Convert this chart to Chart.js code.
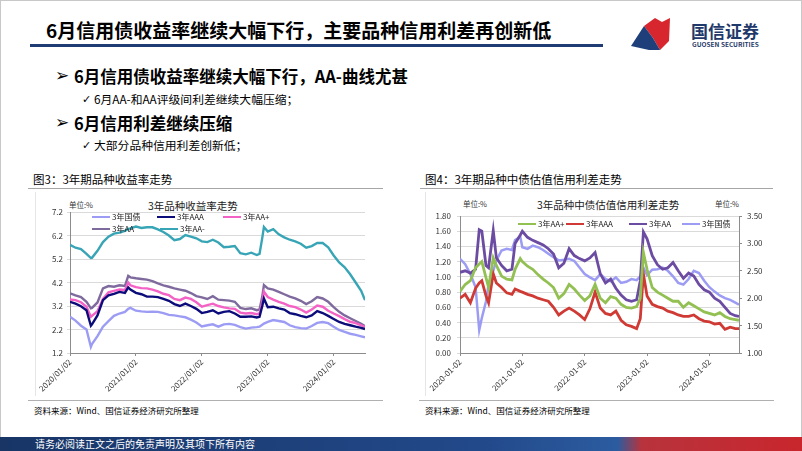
<!DOCTYPE html>
<html>
<head>
<meta charset="utf-8">
<script src="https://cdn.jsdelivr.net/npm/chart.js@4.4.1/dist/chart.umd.min.js"></script>
<style>
html, body { margin: 0; padding: 0; background: #fff; }
#slide { position: relative; width: 802px; height: 451px; overflow: hidden;
  font-family: "Noto Sans CJK SC", "Noto Sans", sans-serif; color: #000; }
.abs { position: absolute; white-space: nowrap; }
.box { position: absolute; }
.lg { position: absolute; white-space: nowrap; font-size: 8px; line-height: 10px; color: #222; }
.lg i { display: inline-block; width: 18px; height: 2px; vertical-align: middle; margin-right: 2px; margin-top: -2px; }
</style>
</head>
<body>
<div id="slide">
  <div class="box" style="left:0;top:0;width:800px;height:449px;border:1px solid #c8c8c8"></div>

  <!-- header -->
  <div class="abs" style="left:46px;top:20px;font-size:19px;line-height:20px;font-weight:700">6月信用债收益率继续大幅下行，主要品种信用利差再创新低</div>
  <div class="box" style="left:30px;top:44px;width:573px;height:3px;background:#1f3c74"></div>
  <svg class="box" style="left:628px;top:14px" width="46" height="40" viewBox="0 0 46 40">
    <polygon points="16,12 27,4 34,8 42,4 41,27 32,36 25,24" fill="#d7262d"/>
    <polygon points="3,32 16,12 25,24 32,36 21,36" fill="#1f3f7a"/>
  </svg>
  <div class="abs" style="left:691px;top:22px;font-size:17px;line-height:18px;font-weight:700;color:#1f3a6a">国信证券</div>
  <div class="abs" style="left:692px;top:41px;font-size:6.5px;line-height:7px;font-weight:700;color:#1f3a6a">GUOSEN SECURITIES</div>

  <!-- bullets -->
  <div class="abs" style="left:55px;top:66px;font-size:17px;line-height:18px;font-family:'DejaVu Sans';font-weight:700">➢</div>
  <div class="abs" style="left:74px;top:67px;font-size:16.5px;line-height:18px;font-weight:700">6月信用债收益率继续大幅下行，AA-曲线尤甚</div>
  <div class="abs" style="left:82px;top:93px;font-size:11px;line-height:13px;font-family:'DejaVu Sans'">✓</div>
  <div class="abs" style="left:94px;top:92px;font-size:11.8px;line-height:14px">6月AA-和AA评级间利差继续大幅压缩；</div>
  <div class="abs" style="left:55px;top:113px;font-size:17px;line-height:18px;font-family:'DejaVu Sans';font-weight:700">➢</div>
  <div class="abs" style="left:74px;top:114px;font-size:16.5px;line-height:18px;font-weight:700">6月信用利差继续压缩</div>
  <div class="abs" style="left:82px;top:139px;font-size:11px;line-height:13px;font-family:'DejaVu Sans'">✓</div>
  <div class="abs" style="left:94px;top:138px;font-size:11.8px;line-height:14px">大部分品种信用利差创新低；</div>

  <!-- left panel -->
  <div class="abs" style="left:33px;top:172px;font-size:11.5px;line-height:14px">图3：3年期品种收益率走势</div>
  <div class="box" style="left:28px;top:188px;width:355px;height:1px;background:#a6a6a6"></div>
  <div class="box" style="left:35px;top:192px;width:1px;height:204px;background:#e6e6e6"></div>
  <div class="abs" style="left:69px;top:200px;font-size:7.5px;line-height:9px;color:#333">单位:%</div>
  <div class="abs" style="left:148px;top:199px;font-size:10.5px;line-height:13px;color:#222">3年品种收益率走势</div>
  <div class="box" style="left:36px;top:192px;width:347px;height:203px"><canvas id="leftChart"></canvas></div>
  <div class="box" style="left:28px;top:400px;width:355px;height:1px;background:#b0b0b0"></div>
  <div class="abs" style="left:34px;top:405px;font-size:8.5px;line-height:10px">资料来源：Wind、国信证券经济研究所整理</div>

  <!-- right panel -->
  <div class="abs" style="left:425px;top:172px;font-size:11.5px;line-height:14px">图4：3年期品种中债估值信用利差走势</div>
  <div class="box" style="left:420px;top:188px;width:353px;height:1px;background:#a6a6a6"></div>
  <div class="box" style="left:425px;top:192px;width:1px;height:204px;background:#e6e6e6"></div>
  <div class="abs" style="left:463px;top:199px;font-size:7.5px;line-height:9px;color:#333">单位:%</div>
  <div class="abs" style="left:537px;top:198px;font-size:10.5px;line-height:13px;color:#222">3年品种中债估值信用利差走势</div>
  <div class="abs" style="left:715px;top:199px;font-size:7.5px;line-height:9px;color:#333">单位:%</div>
  <div class="box" style="left:426px;top:192px;width:347px;height:203px"><canvas id="rightChart"></canvas></div>
  <div class="box" style="left:419px;top:400px;width:355px;height:1px;background:#b0b0b0"></div>
  <div class="abs" style="left:425px;top:405px;font-size:8.5px;line-height:10px">资料来源：Wind、国信证券经济研究所整理</div>

  <!-- footer -->
  <div class="box" style="left:0;top:437px;width:802px;height:14px;background:linear-gradient(90deg,#183566 0%,#22498a 60%,#2c5ca0 77%,#b8333c 80%,#c9262d 100%)"></div>
  <div class="abs" style="left:35px;top:438px;font-size:10px;line-height:12px;color:#fff">请务必阅读正文之后的免责声明及其项下所有内容</div>
</div>

<script>
// months since 2020-01-02
var yieldMonths = [0,1,2,3,3.8,4,5,6,7,8,9,10,10.6,11,12,13,14,15,16,17,18,19,20,21,22,23,24,25,26,27,28,29,30,31,32,33,34,34.5,35,35.3,36,37,38,39,40,41,42,43,44,45,46,47,48,49,50,51,52,53,53.7];
var cgb3y = [2.74,2.58,2.36,2.2,1.46,1.58,1.92,2.32,2.56,2.78,
  2.88,2.95,3.08,3.12,3.0,2.97,2.95,2.96,2.95,2.9,
  2.82,2.8,2.76,2.72,2.62,2.5,2.33,2.38,2.42,2.32,
  2.42,2.44,2.4,2.3,2.24,2.28,2.3,2.32,2.4,2.45,
  2.52,2.6,2.56,2.52,2.38,2.3,2.26,2.24,2.35,2.48,
  2.52,2.47,2.32,2.18,2.1,2.02,1.97,1.91,1.87];
var aaa3y = [3.38,3.3,3.19,3.02,2.36,2.42,2.8,3.45,3.65,3.72,
  3.8,3.76,3.99,3.9,3.76,3.7,3.6,3.6,3.58,3.5,
  3.42,3.28,3.2,3.3,3.2,3.08,2.9,2.95,3.02,2.88,
  2.95,2.98,2.88,2.74,2.74,2.76,2.71,2.74,3.2,3.52,
  3.15,3.17,3.1,3.05,2.9,2.85,2.78,2.72,2.8,2.98,
  2.9,2.78,2.65,2.52,2.44,2.38,2.32,2.27,2.22];
var aaPlus3y = [3.48,3.45,3.36,3.17,2.74,2.78,2.98,3.5,3.78,3.84,
  3.9,3.88,4.2,4.08,4.0,3.96,3.95,3.9,3.82,3.72,
  3.66,3.5,3.45,3.56,3.5,3.36,3.17,3.24,3.3,3.2,
  3.14,3.1,3.08,2.92,2.88,2.9,2.85,2.88,3.35,3.81,
  3.58,3.47,3.38,3.3,3.2,3.15,3.05,2.92,3.05,3.22,
  3.17,3.0,2.88,2.77,2.64,2.53,2.47,2.38,2.31];
var aa3y = [3.74,3.65,3.58,3.38,3.1,3.12,3.35,3.95,4.05,4.02,
  4.08,4.05,4.48,4.42,4.38,4.35,4.32,4.26,4.16,4.08,
  4.02,3.95,3.9,3.85,3.75,3.62,3.57,3.5,3.62,3.47,
  3.45,3.43,3.38,3.12,3.07,3.1,3.02,3.05,3.6,4.09,
  3.95,3.9,3.8,3.7,3.6,3.52,3.42,3.28,3.4,3.58,
  3.52,3.38,3.15,2.95,2.8,2.68,2.56,2.44,2.34];
var aaMinus3y = [5.8,5.68,5.62,5.42,5.24,5.25,5.55,5.92,6.15,6.28,
  6.32,6.4,6.48,6.5,6.58,6.52,6.55,6.55,6.46,6.35,
  6.2,6.0,6.05,6.22,6.15,6.08,5.95,5.92,6.02,5.9,
  5.7,5.72,5.75,5.45,5.4,5.47,5.37,5.42,6.1,6.56,
  6.37,6.47,6.25,6.12,6.02,5.95,5.85,5.68,5.75,5.88,
  5.88,5.7,5.35,5.05,4.85,4.55,4.2,3.85,3.45];
var yieldNames = ['3年国债', '3年AAA', '3年AA+', '3年AA', '3年AA-'];
var yieldColors = ['#9c9cf4', '#0b0b7a', '#f462c6', '#7f6a9e', '#38a5b6'];

var spreadMonths = [0,1,2,3,3.7,4.2,5,5.5,6.4,7,8,9,10,10.6,11.6,12,13,14,15,16,17,18,19,20,21,22,23,24,25,26,27,28,29,30,31,32,33,34,34.7,35.3,36,37,38,39,40,41,42,43,44,45,46,47,48,49,50,51,52,53,53.7];
var aaPlusSpread = [0.81,0.9,0.95,1.12,1.17,1.2,0.99,0.86,1.25,1.15,
  1.01,0.97,0.96,1.1,1.24,1.2,1.14,1.1,1.03,0.97,
  0.92,0.86,0.72,0.78,0.9,0.84,0.76,0.69,0.75,0.9,
  0.72,0.66,0.74,0.72,0.64,0.6,0.59,0.61,0.72,1.32,
  1.1,0.86,0.8,0.76,0.72,0.68,0.68,0.6,0.66,0.62,
  0.58,0.54,0.52,0.5,0.53,0.48,0.45,0.44,0.43];
var aaaSpread = [0.72,0.77,0.66,0.85,0.92,0.95,0.75,0.66,1.04,0.92,
  0.86,0.79,0.77,0.84,0.81,0.8,0.77,0.75,0.72,0.7,
  0.68,0.6,0.5,0.55,0.59,0.55,0.5,0.44,0.58,0.8,
  0.59,0.52,0.5,0.55,0.43,0.37,0.35,0.32,0.45,1.04,
  0.75,0.64,0.61,0.59,0.55,0.53,0.5,0.48,0.48,0.5,
  0.45,0.42,0.41,0.38,0.39,0.31,0.34,0.32,0.32];
var aaSpread = [1.06,1.08,1.05,1.1,1.62,1.6,1.15,1.12,1.61,1.25,
  1.15,1.08,1.1,1.44,1.55,1.6,1.52,1.48,1.45,1.42,
  1.37,1.3,1.12,1.18,1.37,1.28,1.24,1.21,1.25,1.32,
  1.04,0.92,0.97,0.85,0.76,0.7,0.68,0.7,0.95,1.59,
  1.5,1.28,1.16,1.1,1.12,1.19,1.08,0.98,1.05,1.01,
  0.9,0.83,0.8,0.72,0.68,0.6,0.52,0.49,0.48];
// 3y government bond yield, right axis
var cgbRight = [2.72,2.62,2.44,2.2,1.42,1.64,1.94,2.25,2.5,2.69,
  2.87,2.9,2.88,3.06,3.12,2.93,2.9,2.96,2.93,2.88,
  2.81,2.75,2.69,2.7,2.72,2.68,2.56,2.44,2.38,2.33,
  2.44,2.35,2.31,2.38,2.28,2.3,2.35,2.33,2.4,2.56,
  2.42,2.52,2.53,2.56,2.5,2.4,2.28,2.25,2.35,2.5,
  2.46,2.32,2.2,2.12,2.05,2.0,1.97,1.92,1.88];
var spreadNames = ['3年AA+', '3年AAA', '3年AA', '3年国债'];
var spreadColors = ['#93c052', '#cf3a34', '#6c4ca2', '#9c9cf4'];

var tickMonths = [0, 12, 24, 36, 48];
var slashLabels = ['2020/01/02', '2021/01/02', '2022/01/02', '2023/01/02', '2024/01/02'];
var dashLabels = ['2020-01-02', '2021-01-02', '2022-01-02', '2023-01-02', '2024-01-02'];

var tickFont = { size: 8, family: '"Noto Sans CJK SC", sans-serif' };

function pts(xs, ys) {
  return xs.map(function (x, i) { return { x: x, y: ys[i] }; });
}

function line(label, xs, ys, color, width, axis) {
  return { label: label, data: pts(xs, ys), borderColor: color, backgroundColor: color,
    borderWidth: width, pointRadius: 0, tension: 0, yAxisID: axis || 'y' };
}

function xAxis(labels, xMax) {
  return {
    type: 'linear', min: 0, max: xMax,
    afterBuildTicks: function (s) { s.ticks = tickMonths.map(function (v) { return { value: v }; }); },
    afterFit: function (s) { s.height = 42; },
    ticks: { autoSkip: false, minRotation: 45, maxRotation: 45, padding: 1, font: tickFont, color: '#333',
      callback: function (v) { return labels[tickMonths.indexOf(v)]; } },
    grid: { drawOnChartArea: false, tickLength: 3, color: '#8c8c8c' },
    border: { color: '#8c8c8c' }
  };
}

// HTML legend placed on the slide
var slide = document.getElementById('slide');
function legend(names, colors, spots) {
  names.forEach(function (n, i) {
    var d = document.createElement('div');
    d.className = 'lg';
    d.style.left = spots[i][0] + 'px';
    d.style.top = (spots[i][1] - 5) + 'px';
    d.innerHTML = '<i style="background:' + colors[i] + '"></i>' + n;
    slide.appendChild(d);
  });
}

new Chart(document.getElementById('leftChart'), {
  type: 'line',
  data: {
    datasets: [
      line(yieldNames[0], yieldMonths, cgb3y, yieldColors[0], 2.4),
      line(yieldNames[1], yieldMonths, aaa3y, yieldColors[1], 2.4),
      line(yieldNames[2], yieldMonths, aaPlus3y, yieldColors[2], 2.4),
      line(yieldNames[3], yieldMonths, aa3y, yieldColors[3], 2.4),
      line(yieldNames[4], yieldMonths, aaMinus3y, yieldColors[4], 2.4)
    ]
  },
  options: {
    responsive: true, maintainAspectRatio: false, animation: false,
    layout: { padding: { top: 20, right: 18, left: 0, bottom: 0 } },
    plugins: { legend: { display: false }, tooltip: { enabled: false } },
    scales: {
      x: xAxis(slashLabels, 53.7),
      y: {
        min: 1.2, max: 7.2,
        afterFit: function (s) { s.width = 34; },
        ticks: { stepSize: 1, padding: 4, font: tickFont, color: '#333',
          callback: function (v) { return v.toFixed(1); } },
        grid: { color: '#dadada', tickLength: 3 },
        border: { color: '#8c8c8c' }
      }
    }
  }
});

new Chart(document.getElementById('rightChart'), {
  type: 'line',
  data: {
    datasets: [
      line(spreadNames[0], spreadMonths, aaPlusSpread, spreadColors[0], 2.8),
      line(spreadNames[1], spreadMonths, aaaSpread, spreadColors[1], 2.8),
      line(spreadNames[2], spreadMonths, aaSpread, spreadColors[2], 2.8),
      line(spreadNames[3], spreadMonths, cgbRight, spreadColors[3], 2.5, 'y1')
    ]
  },
  options: {
    responsive: true, maintainAspectRatio: false, animation: false,
    layout: { padding: { top: 24, right: 0, left: 0, bottom: 0 } },
    plugins: { legend: { display: false }, tooltip: { enabled: false } },
    scales: {
      x: xAxis(dashLabels, 53.7),
      y: {
        min: 0, max: 1.8,
        afterFit: function (s) { s.width = 34; },
        ticks: { stepSize: 0.2, padding: 6, font: tickFont, color: '#333',
          callback: function (v) { return v.toFixed(2); } },
        grid: { color: '#dadada', tickLength: 3 },
        border: { color: '#8c8c8c' }
      },
      y1: {
        position: 'right', min: 1, max: 3.5,
        afterFit: function (s) { s.width = 34; },
        ticks: { stepSize: 0.5, padding: 5, font: tickFont, color: '#333',
          callback: function (v) { return v.toFixed(2); } },
        grid: { drawOnChartArea: false, tickLength: 3, color: '#8c8c8c' },
        border: { color: '#8c8c8c' }
      }
    }
  }
});

legend(yieldNames, yieldColors, [[92, 217], [157, 217], [223, 217], [92, 229], [160, 229]]);
legend(spreadNames, spreadColors, [[518, 224], [566, 224], [629, 224], [682, 224]]);
</script>
</body>
</html>
